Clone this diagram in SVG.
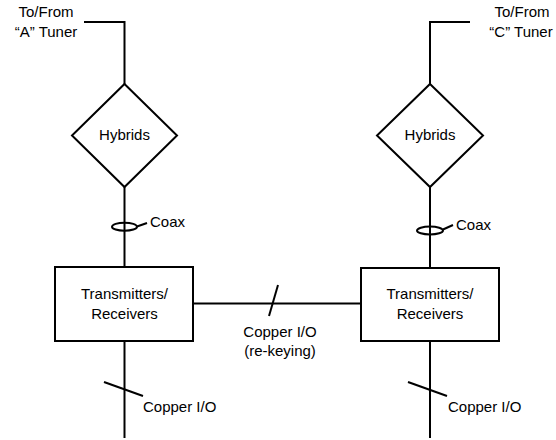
<svg xmlns="http://www.w3.org/2000/svg" width="556" height="440" viewBox="0 0 556 440">
<style>
.s{fill:none;stroke:#000;stroke-width:2}
.n{fill:#fff;stroke:#000;stroke-width:2}
text{font-family:"Liberation Sans",Arial,sans-serif;font-size:15px;fill:#000}
.c{text-anchor:middle}
</style>
<rect width="556" height="440" fill="#fff"/>
<g id="connectors">
<polyline class="s" points="84,22 124.5,22 124.5,84"/>
<polyline class="s" points="470,22 430,22 430,84"/>
<line class="s" x1="124.5" y1="187" x2="124.5" y2="267"/>
<line class="s" x1="430" y1="187" x2="430" y2="268"/>
<line class="s" x1="124.5" y1="341" x2="124.5" y2="438"/>
<line class="s" x1="430" y1="341" x2="430" y2="438"/>
<line class="s" x1="193" y1="303.5" x2="361" y2="303.5"/>
<ellipse class="s" cx="124.5" cy="226.7" rx="12.5" ry="4"/>
<line class="s" x1="137" y1="226.5" x2="147" y2="223"/>
<ellipse class="s" cx="430" cy="230.5" rx="13" ry="4"/>
<line class="s" x1="443" y1="229.5" x2="453" y2="225"/>
<line class="s" x1="278" y1="285" x2="269" y2="316"/>
<line class="s" x1="104" y1="382" x2="143" y2="396"/>
<line class="s" x1="408" y1="382" x2="447" y2="396"/>
<text x="150" y="227">Coax</text>
<text x="456" y="230">Coax</text>
<text class="c" x="280" y="337">Copper I/O</text>
<text class="c" x="280" y="356">(re-keying)</text>
<text x="143" y="412">Copper I/O</text>
<text x="448" y="412">Copper I/O</text>
</g>
<g id="tunerA">
<text class="c" x="46" y="17">To/From</text>
<text class="c" x="46" y="37">“A” Tuner</text>
</g>
<g id="tunerC">
<text class="c" x="522" y="17">To/From</text>
<text class="c" x="521" y="37">“C” Tuner</text>
</g>
<g id="hybridsA">
<polygon class="n" points="124.5,84 177,135.5 124.5,187 72,135.5"/>
<text class="c" x="124.5" y="140">Hybrids</text>
</g>
<g id="hybridsC">
<polygon class="n" points="430,84 483,135.5 430,187 377,135.5"/>
<text class="c" x="430" y="140">Hybrids</text>
</g>
<g id="trxA">
<rect class="n" x="55" y="267" width="138" height="74"/>
<text class="c" x="124.5" y="299">Transmitters/</text>
<text class="c" x="124.5" y="319">Receivers</text>
</g>
<g id="trxC">
<rect class="n" x="361" y="268" width="138" height="73"/>
<text class="c" x="430" y="299">Transmitters/</text>
<text class="c" x="430" y="319">Receivers</text>
</g>
</svg>
